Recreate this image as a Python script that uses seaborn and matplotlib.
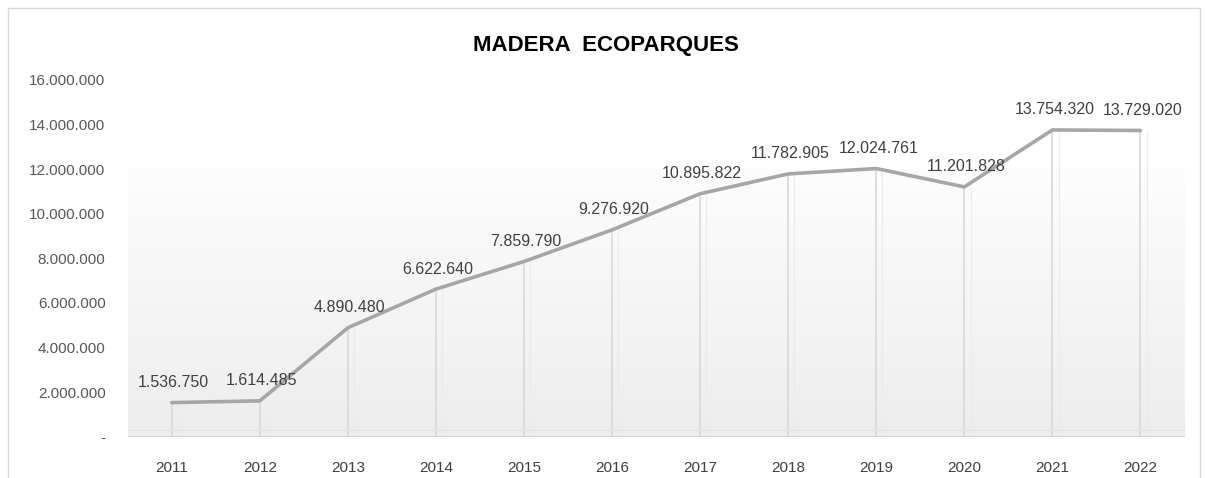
import numpy as np
import matplotlib.pyplot as plt
import seaborn as sns
from matplotlib.patches import Rectangle
from matplotlib.colors import LinearSegmentedColormap

# ── DATA ────────────────────────────────────────────────────────────
years  = [2011, 2012, 2013, 2014, 2015, 2016, 2017, 2018, 2019, 2020, 2021, 2022]
values = [1536750, 1614485, 4890480, 6622640, 7859790, 9276920,
          10895822, 11782905, 12024761, 11201828, 13754320, 13729020]
yticks = [0, 2000000, 4000000, 6000000, 8000000, 10000000, 12000000, 14000000, 16000000]


def fmt_es(v):
    # Excel-style number: dots as thousand separator, zero shown as "-"
    if v == 0:
        return '-'
    return f'{v:,.0f}'.replace(',', '.')


sns.set_style('white')
plt.rcParams['font.family'] = ['Liberation Sans', 'DejaVu Sans']

fig = plt.figure(figsize=(12.05, 4.78), dpi=100)
ax = fig.add_axes([0.106, 0.086, 0.877, 0.747])

# chart border
fig.patches.append(Rectangle((0.007, -0.01), 0.989, 0.993, transform=fig.transFigure,
                             fill=False, edgecolor='#d9d9d9', linewidth=1.0))

# gradient back wall (white near 12M → light grey at the floor)
grad = np.linspace(1.0, 0.0, 256).reshape(-1, 1)
ax.imshow(grad, extent=[2010.5, 2022.5, 0, 12000000], aspect='auto',
          cmap=LinearSegmentedColormap.from_list('g', ['#ededed', '#fdfdfd']),
          origin='upper', zorder=0, vmin=0, vmax=1)

# drop lines from each point to the floor
ax.vlines(years, 0, values, color='#d9d9d9', linewidth=1.2, zorder=1)
ax.vlines([y + 0.07 for y in years], 0, values, color='#ebebeb', linewidth=0.8, zorder=1)

# 3D-ish floor
ax.axhline(0, color='#d6d6d6', linewidth=1.5, zorder=1)
ax.axhline(300000, color='#e3e3e3', linewidth=0.8, zorder=1)

sns.lineplot(x=years, y=values, color='#a6a6a6', linewidth=2.6, ax=ax, zorder=3)

# data labels
for x, v in zip(years, values):
    ax.annotate(fmt_es(v), (x, v), xytext=(2, 20), textcoords='offset pixels',
                ha='center', va='center', fontsize=11.5, color='#404040', zorder=4)

ax.set_xlim(2010.5, 2022.5)
ax.set_ylim(0, 16000000)
ax.set_xticks(years)
ax.set_xticklabels([str(y) for y in years], fontsize=11, color='#404040')
ax.set_yticks(yticks)
ax.set_yticklabels([fmt_es(v) for v in yticks], fontsize=11, color='#595959')
ax.tick_params(axis='x', length=0, pad=17)
ax.tick_params(axis='y', length=0, pad=16)
for s in ax.spines.values():
    s.set_visible(False)

fig.text(0.5025, 0.905, 'MADERA  ECOPARQUES', ha='center', va='center',
         fontsize=16, fontweight='bold', color='#000000')

fig.savefig('out.png', dpi=100)
